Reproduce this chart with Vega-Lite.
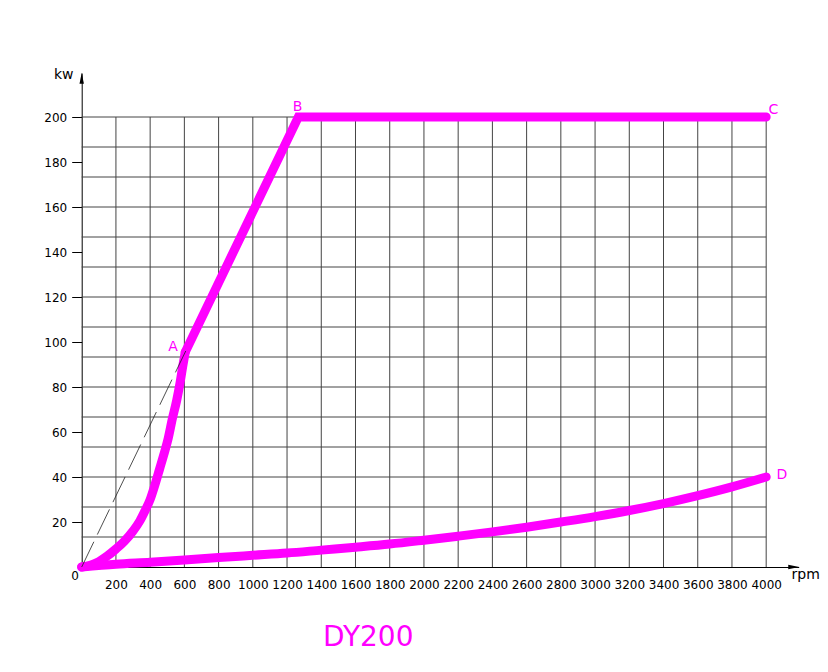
{
  "$schema": "https://vega.github.io/schema/vega-lite/v6.json",
  "autosize": "none",
  "width": 717,
  "height": 494,
  "padding": {"left": 81.7, "top": 73, "right": 29.3, "bottom": 105},
  "background": "white",
  "view": {"stroke": null},
  "config": {"font": "DejaVu Sans"},
  "title": {"text": "DY200", "orient": "bottom", "anchor": "middle", "dx": -72, "offset": 34, "fontSize": 28, "fontWeight": "normal", "color": "#ff00ff", "font": "DejaVu Sans"},
  "datasets": {
    "hgrid": [
      {"kw": 13.333}, {"kw": 26.667}, {"kw": 40}, {"kw": 53.333}, {"kw": 66.667},
      {"kw": 80}, {"kw": 93.333}, {"kw": 106.667}, {"kw": 120}, {"kw": 133.333},
      {"kw": 146.667}, {"kw": 160}, {"kw": 173.333}, {"kw": 186.667}, {"kw": 200}
    ],
    "vgrid": [
      {"rpm": 200}, {"rpm": 400}, {"rpm": 600}, {"rpm": 800}, {"rpm": 1000},
      {"rpm": 1200}, {"rpm": 1400}, {"rpm": 1600}, {"rpm": 1800}, {"rpm": 2000},
      {"rpm": 2200}, {"rpm": 2400}, {"rpm": 2600}, {"rpm": 2800}, {"rpm": 3000},
      {"rpm": 3200}, {"rpm": 3400}, {"rpm": 3600}, {"rpm": 3800}, {"rpm": 4000}
    ],
    "curves": [
      {"series": "rise", "rpm": 0, "kw": 0},
      {"series": "rise", "rpm": 50, "kw": 0.8},
      {"series": "rise", "rpm": 100, "kw": 2.4},
      {"series": "rise", "rpm": 150, "kw": 4.9},
      {"series": "rise", "rpm": 200, "kw": 8},
      {"series": "rise", "rpm": 250, "kw": 11.5},
      {"series": "rise", "rpm": 300, "kw": 16},
      {"series": "rise", "rpm": 340, "kw": 20.5},
      {"series": "rise", "rpm": 370, "kw": 25},
      {"series": "rise", "rpm": 400, "kw": 30},
      {"series": "rise", "rpm": 430, "kw": 37},
      {"series": "rise", "rpm": 455, "kw": 43.5},
      {"series": "rise", "rpm": 480, "kw": 50},
      {"series": "rise", "rpm": 505, "kw": 57},
      {"series": "rise", "rpm": 530, "kw": 66},
      {"series": "rise", "rpm": 555, "kw": 74},
      {"series": "rise", "rpm": 575, "kw": 82},
      {"series": "rise", "rpm": 590, "kw": 89},
      {"series": "rise", "rpm": 605, "kw": 95.5},
      {"series": "lower", "rpm": 0, "kw": 0},
      {"series": "lower", "rpm": 200, "kw": 1.2},
      {"series": "lower", "rpm": 400, "kw": 2.1},
      {"series": "lower", "rpm": 600, "kw": 3.1},
      {"series": "lower", "rpm": 800, "kw": 4.2},
      {"series": "lower", "rpm": 1000, "kw": 5.2},
      {"series": "lower", "rpm": 1200, "kw": 6.2},
      {"series": "lower", "rpm": 1400, "kw": 7.5},
      {"series": "lower", "rpm": 1600, "kw": 8.8},
      {"series": "lower", "rpm": 1800, "kw": 10.2},
      {"series": "lower", "rpm": 2000, "kw": 11.9},
      {"series": "lower", "rpm": 2200, "kw": 13.7},
      {"series": "lower", "rpm": 2400, "kw": 15.6},
      {"series": "lower", "rpm": 2600, "kw": 17.7},
      {"series": "lower", "rpm": 2800, "kw": 20},
      {"series": "lower", "rpm": 3000, "kw": 22.4},
      {"series": "lower", "rpm": 3200, "kw": 25.1},
      {"series": "lower", "rpm": 3400, "kw": 28.2},
      {"series": "lower", "rpm": 3600, "kw": 31.7},
      {"series": "lower", "rpm": 3800, "kw": 35.6},
      {"series": "lower", "rpm": 4000, "kw": 40}
    ],
    "straight": [
      {"rpm": 605, "kw": 95.5},
      {"rpm": 1266, "kw": 200},
      {"rpm": 4000, "kw": 200}
    ],
    "dash": [{"rpm": 0, "kw": 0}, {"rpm": 608, "kw": 96}],
    "arrows": [{"rpm": 0, "kw": 217.2, "dir": "up"}, {"rpm": 4161, "kw": 0, "dir": "right"}],
    "pointLabels": [
      {"label": "A", "rpm": 533, "kw": 97.8},
      {"label": "B", "rpm": 1261, "kw": 204.6},
      {"label": "C", "rpm": 4042, "kw": 203.3},
      {"label": "D", "rpm": 4092, "kw": 40.75}
    ],
    "axisNames": [
      {"label": "kw", "rpm": -105, "kw": 218.6},
      {"label": "rpm", "rpm": 4231, "kw": -3.6}
    ],
    "origin": [{"label": "0", "rpm": -39, "kw": -4.2}]
  },
  "layer": [
    {
      "data": {"name": "hgrid"},
      "mark": {"type": "rule", "color": "#444", "strokeWidth": 1},
      "encoding": {
        "y": {"field": "kw", "type": "quantitative",
          "scale": {"domain": [0, 219.56], "nice": false, "zero": false},
          "axis": {"values": [20, 40, 60, 80, 100, 120, 140, 160, 180, 200], "title": null, "grid": false,
            "tickSize": 10, "tickColor": "#000", "tickWidth": 1, "labelPadding": 5, "labelFontSize": 12,
            "labelFont": "DejaVu Sans", "labelColor": "#000", "domainColor": "#000", "domainWidth": 1,
            "labelOverlap": false, "labelBound": false, "labelFlush": false}},
        "x": {"datum": 0, "type": "quantitative",
          "scale": {"domain": [0, 4190], "nice": false, "zero": false},
          "axis": {"values": [200, 400, 600, 800, 1000, 1200, 1400, 1600, 1800, 2000, 2200, 2400, 2600, 2800, 3000, 3200, 3400, 3600, 3800, 4000],
            "format": "d", "title": null, "grid": false, "ticks": false, "labelPadding": 12, "labelDx": -3, "labelFontSize": 12,
            "labelFont": "DejaVu Sans", "labelColor": "#000", "domainColor": "#000", "domainWidth": 1,
            "labelOverlap": false, "labelBound": false, "labelFlush": false}},
        "x2": {"datum": 4000}
      }
    },
    {
      "data": {"name": "vgrid"},
      "mark": {"type": "rule", "color": "#444", "strokeWidth": 1},
      "encoding": {
        "x": {"field": "rpm", "type": "quantitative",
          "axis": {"values": [200, 400, 600, 800, 1000, 1200, 1400, 1600, 1800, 2000, 2200, 2400, 2600, 2800, 3000, 3200, 3400, 3600, 3800, 4000],
            "format": "d", "title": null, "grid": false, "ticks": false, "labelPadding": 12, "labelDx": -3, "labelFontSize": 12,
            "labelFont": "DejaVu Sans", "labelColor": "#000", "domainColor": "#000", "domainWidth": 1,
            "labelOverlap": false, "labelBound": false, "labelFlush": false}},
        "y": {"datum": 0, "type": "quantitative",
          "axis": {"values": [20, 40, 60, 80, 100, 120, 140, 160, 180, 200], "title": null, "grid": false,
            "tickSize": 10, "tickColor": "#000", "tickWidth": 1, "labelPadding": 5, "labelFontSize": 12,
            "labelFont": "DejaVu Sans", "labelColor": "#000", "domainColor": "#000", "domainWidth": 1,
            "labelOverlap": false, "labelBound": false, "labelFlush": false}},
        "y2": {"datum": 200}
      }
    },
    {
      "data": {"name": "curves"},
      "mark": {"type": "line", "color": "#ff00ff", "strokeWidth": 9, "strokeCap": "round", "strokeJoin": "round", "interpolate": "monotone"},
      "encoding": {
        "x": {"field": "rpm", "type": "quantitative",
          "axis": {"values": [200, 400, 600, 800, 1000, 1200, 1400, 1600, 1800, 2000, 2200, 2400, 2600, 2800, 3000, 3200, 3400, 3600, 3800, 4000],
            "format": "d", "title": null, "grid": false, "ticks": false, "labelPadding": 12, "labelDx": -3, "labelFontSize": 12,
            "labelFont": "DejaVu Sans", "labelColor": "#000", "domainColor": "#000", "domainWidth": 1,
            "labelOverlap": false, "labelBound": false, "labelFlush": false}},
        "y": {"field": "kw", "type": "quantitative",
          "axis": {"values": [20, 40, 60, 80, 100, 120, 140, 160, 180, 200], "title": null, "grid": false,
            "tickSize": 10, "tickColor": "#000", "tickWidth": 1, "labelPadding": 5, "labelFontSize": 12,
            "labelFont": "DejaVu Sans", "labelColor": "#000", "domainColor": "#000", "domainWidth": 1,
            "labelOverlap": false, "labelBound": false, "labelFlush": false}},
        "detail": {"field": "series", "type": "nominal"}
      }
    },
    {
      "data": {"name": "straight"},
      "mark": {"type": "line", "color": "#ff00ff", "strokeWidth": 9, "strokeCap": "round", "strokeJoin": "miter"},
      "encoding": {
        "x": {"field": "rpm", "type": "quantitative",
          "axis": {"values": [200, 400, 600, 800, 1000, 1200, 1400, 1600, 1800, 2000, 2200, 2400, 2600, 2800, 3000, 3200, 3400, 3600, 3800, 4000],
            "format": "d", "title": null, "grid": false, "ticks": false, "labelPadding": 12, "labelDx": -3, "labelFontSize": 12,
            "labelFont": "DejaVu Sans", "labelColor": "#000", "domainColor": "#000", "domainWidth": 1,
            "labelOverlap": false, "labelBound": false, "labelFlush": false}},
        "y": {"field": "kw", "type": "quantitative",
          "axis": {"values": [20, 40, 60, 80, 100, 120, 140, 160, 180, 200], "title": null, "grid": false,
            "tickSize": 10, "tickColor": "#000", "tickWidth": 1, "labelPadding": 5, "labelFontSize": 12,
            "labelFont": "DejaVu Sans", "labelColor": "#000", "domainColor": "#000", "domainWidth": 1,
            "labelOverlap": false, "labelBound": false, "labelFlush": false}}
      }
    },
    {
      "data": {"name": "dash"},
      "mark": {"type": "line", "color": "#222", "strokeWidth": 0.8, "strokeDash": [28, 8]},
      "encoding": {
        "x": {"field": "rpm", "type": "quantitative",
          "axis": {"values": [200, 400, 600, 800, 1000, 1200, 1400, 1600, 1800, 2000, 2200, 2400, 2600, 2800, 3000, 3200, 3400, 3600, 3800, 4000],
            "format": "d", "title": null, "grid": false, "ticks": false, "labelPadding": 12, "labelDx": -3, "labelFontSize": 12,
            "labelFont": "DejaVu Sans", "labelColor": "#000", "domainColor": "#000", "domainWidth": 1,
            "labelOverlap": false, "labelBound": false, "labelFlush": false}},
        "y": {"field": "kw", "type": "quantitative",
          "axis": {"values": [20, 40, 60, 80, 100, 120, 140, 160, 180, 200], "title": null, "grid": false,
            "tickSize": 10, "tickColor": "#000", "tickWidth": 1, "labelPadding": 5, "labelFontSize": 12,
            "labelFont": "DejaVu Sans", "labelColor": "#000", "domainColor": "#000", "domainWidth": 1,
            "labelOverlap": false, "labelBound": false, "labelFlush": false}}
      }
    },
    {
      "data": {"name": "arrows"},
      "mark": {"type": "point", "filled": true, "color": "#000", "size": 121, "opacity": 1, "strokeWidth": 0},
      "encoding": {
        "x": {"field": "rpm", "type": "quantitative",
          "axis": {"values": [200, 400, 600, 800, 1000, 1200, 1400, 1600, 1800, 2000, 2200, 2400, 2600, 2800, 3000, 3200, 3400, 3600, 3800, 4000],
            "format": "d", "title": null, "grid": false, "ticks": false, "labelPadding": 12, "labelDx": -3, "labelFontSize": 12,
            "labelFont": "DejaVu Sans", "labelColor": "#000", "domainColor": "#000", "domainWidth": 1,
            "labelOverlap": false, "labelBound": false, "labelFlush": false}},
        "y": {"field": "kw", "type": "quantitative",
          "axis": {"values": [20, 40, 60, 80, 100, 120, 140, 160, 180, 200], "title": null, "grid": false,
            "tickSize": 10, "tickColor": "#000", "tickWidth": 1, "labelPadding": 5, "labelFontSize": 12,
            "labelFont": "DejaVu Sans", "labelColor": "#000", "domainColor": "#000", "domainWidth": 1,
            "labelOverlap": false, "labelBound": false, "labelFlush": false}},
        "shape": {"field": "dir", "type": "nominal", "legend": null,
          "scale": {"domain": ["up", "right"], "range": ["M0,-1L0.4,1L-0.4,1Z", "M1,0L-1,0.4L-1,-0.4Z"]}}
      }
    },
    {
      "data": {"name": "pointLabels"},
      "mark": {"type": "text", "color": "#ff00ff", "fontSize": 14, "font": "DejaVu Sans", "align": "center", "baseline": "middle"},
      "encoding": {
        "x": {"field": "rpm", "type": "quantitative",
          "axis": {"values": [200, 400, 600, 800, 1000, 1200, 1400, 1600, 1800, 2000, 2200, 2400, 2600, 2800, 3000, 3200, 3400, 3600, 3800, 4000],
            "format": "d", "title": null, "grid": false, "ticks": false, "labelPadding": 12, "labelDx": -3, "labelFontSize": 12,
            "labelFont": "DejaVu Sans", "labelColor": "#000", "domainColor": "#000", "domainWidth": 1,
            "labelOverlap": false, "labelBound": false, "labelFlush": false}},
        "y": {"field": "kw", "type": "quantitative",
          "axis": {"values": [20, 40, 60, 80, 100, 120, 140, 160, 180, 200], "title": null, "grid": false,
            "tickSize": 10, "tickColor": "#000", "tickWidth": 1, "labelPadding": 5, "labelFontSize": 12,
            "labelFont": "DejaVu Sans", "labelColor": "#000", "domainColor": "#000", "domainWidth": 1,
            "labelOverlap": false, "labelBound": false, "labelFlush": false}},
        "text": {"field": "label"}
      }
    },
    {
      "data": {"name": "axisNames"},
      "mark": {"type": "text", "color": "#000", "fontSize": 14, "font": "DejaVu Sans", "align": "center", "baseline": "middle"},
      "encoding": {
        "x": {"field": "rpm", "type": "quantitative",
          "axis": {"values": [200, 400, 600, 800, 1000, 1200, 1400, 1600, 1800, 2000, 2200, 2400, 2600, 2800, 3000, 3200, 3400, 3600, 3800, 4000],
            "format": "d", "title": null, "grid": false, "ticks": false, "labelPadding": 12, "labelDx": -3, "labelFontSize": 12,
            "labelFont": "DejaVu Sans", "labelColor": "#000", "domainColor": "#000", "domainWidth": 1,
            "labelOverlap": false, "labelBound": false, "labelFlush": false}},
        "y": {"field": "kw", "type": "quantitative",
          "axis": {"values": [20, 40, 60, 80, 100, 120, 140, 160, 180, 200], "title": null, "grid": false,
            "tickSize": 10, "tickColor": "#000", "tickWidth": 1, "labelPadding": 5, "labelFontSize": 12,
            "labelFont": "DejaVu Sans", "labelColor": "#000", "domainColor": "#000", "domainWidth": 1,
            "labelOverlap": false, "labelBound": false, "labelFlush": false}},
        "text": {"field": "label"}
      }
    },
    {
      "data": {"name": "origin"},
      "mark": {"type": "text", "color": "#000", "fontSize": 12, "font": "DejaVu Sans", "align": "center", "baseline": "middle"},
      "encoding": {
        "x": {"field": "rpm", "type": "quantitative",
          "axis": {"values": [200, 400, 600, 800, 1000, 1200, 1400, 1600, 1800, 2000, 2200, 2400, 2600, 2800, 3000, 3200, 3400, 3600, 3800, 4000],
            "format": "d", "title": null, "grid": false, "ticks": false, "labelPadding": 12, "labelDx": -3, "labelFontSize": 12,
            "labelFont": "DejaVu Sans", "labelColor": "#000", "domainColor": "#000", "domainWidth": 1,
            "labelOverlap": false, "labelBound": false, "labelFlush": false}},
        "y": {"field": "kw", "type": "quantitative",
          "axis": {"values": [20, 40, 60, 80, 100, 120, 140, 160, 180, 200], "title": null, "grid": false,
            "tickSize": 10, "tickColor": "#000", "tickWidth": 1, "labelPadding": 5, "labelFontSize": 12,
            "labelFont": "DejaVu Sans", "labelColor": "#000", "domainColor": "#000", "domainWidth": 1,
            "labelOverlap": false, "labelBound": false, "labelFlush": false}},
        "text": {"field": "label"}
      }
    }
  ]
}
